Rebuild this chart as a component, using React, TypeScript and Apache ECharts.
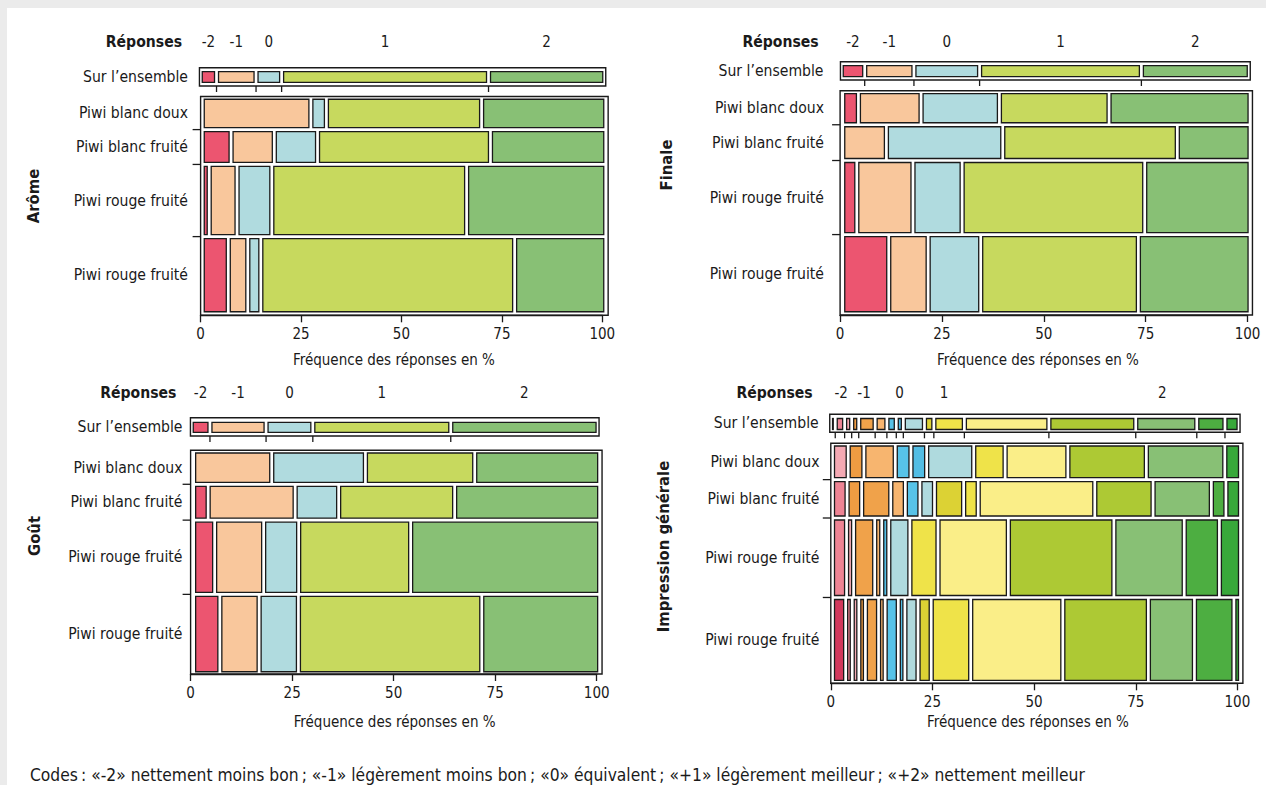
import { useEffect, useRef } from "react";
import * as echarts from "echarts";

// ---------------- DATA ----------------
const PRODUCTS = ["Piwi blanc doux", "Piwi blanc fruité", "Piwi rouge fruité", "Piwi rouge fruité"];
const RESPONSES = ["-2", "-1", "0", "1", "2"];
const X_TICKS = [0, 25, 50, 75, 100];

// counts per product (rows) and response (-2, -1, 0, 1, 2)
const AROME = [
  [0, 7, 1, 10, 8],
  [2, 3, 3, 12, 8],
  [1, 4, 5, 28, 20],
  [4, 3, 2, 39, 14],
];
const FINALE = [
  [1, 4, 5, 7, 9],
  [0, 3, 8, 12, 5],
  [2, 8, 7, 26, 15],
  [7, 6, 8, 24, 17],
];
const GOUT = [
  [0, 5, 6, 7, 8],
  [1, 6, 3, 8, 10],
  [3, 7, 5, 16, 27],
  [4, 6, 6, 28, 18],
];
// Impression générale: 16 finer classes
const IMPRESSION = [
  [0, 0, 1, 1, 0, 2, 1, 1, 3, 0, 2, 4, 5, 5, 0, 1],
  [0, 1, 0, 1, 2, 1, 1, 0, 1, 2, 1, 8, 4, 4, 1, 1],
  [0, 2, 1, 0, 3, 1, 0, 1, 3, 0, 4, 10, 15, 10, 5, 3],
  [2, 1, 1, 1, 2, 1, 2, 1, 2, 2, 6, 14, 13, 7, 6, 1],
];
const IMPRESSION_LABEL_AT = [2.6, 8.2, 16.9, 27.8, 81.2];

const COLORS_5 = ["#EC5570", "#F9C79C", "#B0DBDF", "#C7D95E", "#88C075"];
const COLORS_16 = [
  "#D2385C", "#EE8494", "#F4A9B3",
  "#EF9C42", "#F0A24A", "#F7B56F",
  "#57C3E8", "#52BDE4", "#AFDADE",
  "#DCD234", "#EFE349", "#FAEE88",
  "#ADC934", "#88C075", "#4DAE41", "#38A83A",
];

const CAPTION =
  "Codes\u2009: «-2» nettement moins bon\u2009; «-1» légèrement moins bon\u2009; «0» équivalent\u2009; «+1» légèrement meilleur\u2009; «+2» nettement meilleur";

// ---------------- LAYOUT ----------------
const FONT = "'DejaVu Sans Condensed', 'Liberation Sans', Arial, sans-serif";
const INK = "#1a1a1a";

const PANELS = [
  {
    title: "Arôme", counts: AROME, colors: COLORS_5, labelAt: null as null | number[],
    titleX: 33, titleY: 196, repY: 42, repRight: 182, ensRight: 188, ensY: 77,
    ovX0: 200.25, ovX1: 604.75, ovY0: 71.7, ovY1: 82.3, boxY0: 67.7, boxY1: 86,
    x0: 202.25, x1: 605.75, y0: 97.25, y1: 313.75,
    axX0: 200.6, axX1: 602.3, axY: 315.3, rowRight: 188, axTitleX: 394, axTitleY: 360,
  },
  {
    title: "Finale", counts: FINALE, colors: COLORS_5, labelAt: null as null | number[],
    titleX: 666, titleY: 165, repY: 42, repRight: 818.7, ensRight: 823.5, ensY: 71,
    ovX0: 841.25, ovX1: 1249.25, ovY0: 65.7, ovY1: 76.7, boxY0: 61.7, boxY1: 80,
    x0: 842.75, x1: 1250.05, y0: 91.55, y1: 313.75,
    axX0: 840.1, axX1: 1247.5, axY: 315, rowRight: 824, axTitleX: 1038, axTitleY: 360,
  },
  {
    title: "Goût", counts: GOUT, colors: COLORS_5, labelAt: null as null | number[],
    titleX: 34, titleY: 536, repY: 393.3, repRight: 176.4, ensRight: 182.5, ensY: 427,
    ovX0: 191.25, ovX1: 598.05, ovY0: 422.3, ovY1: 432.3, boxY0: 417.7, boxY1: 436,
    x0: 193.65, x1: 599.65, y0: 451, y1: 673.75,
    axX0: 190.6, axX1: 596.7, axY: 674, rowRight: 182.5, axTitleX: 394.6, axTitleY: 721.7,
  },
  {
    title: "Impression générale", counts: IMPRESSION, colors: COLORS_16, labelAt: IMPRESSION_LABEL_AT,
    titleX: 663, titleY: 546.5, repY: 393.3, repRight: 812.6, ensRight: 818.7, ensY: 423.3,
    ovX0: 830.55, ovX1: 1239.05, ovY0: 418.5, ovY1: 429.5, boxY0: 414.3, boxY1: 432.3,
    x0: 832.5, x1: 1240.5, y0: 444, y1: 682.45,
    axX0: 830.8, axX1: 1237.4, axY: 683.3, rowRight: 819.5, axTitleX: 1028, axTitleY: 721.7,
  },
];

const GAP = 2; // half gap between tiles

function txt(x: number, y: number, text: string, size: number, align: string, bold = false, extra: any = {}) {
  return {
    type: "text",
    x,
    y,
    silent: true,
    ...extra,
    style: {
      text,
      fill: INK,
      font: `${bold ? "bold " : ""}${size}px ${FONT}`,
      align,
      verticalAlign: "middle",
      textAlign: align,
      textVerticalAlign: "middle",
    },
  };
}

function buildOption() {
  const grid: any[] = [];
  const xAxis: any[] = [];
  const yAxis: any[] = [];
  const series: any[] = [];
  const graphic: any[] = [
    { type: "rect", shape: { x: 0, y: 0, width: 1266, height: 8 }, style: { fill: "#EBEBEB" }, silent: true },
    { type: "rect", shape: { x: 0, y: 0, width: 7, height: 785 }, style: { fill: "#EBEBEB" }, silent: true },
    txt(30, 775, CAPTION, 17.3, "left"),
  ];

  PANELS.forEach((p) => {
    const counts = p.counts;
    const nRows = counts.map((r) => r.reduce((a, b) => a + b, 0));
    const total = nRows.reduce((a, b) => a + b, 0);
    const nCat = counts[0].length;
    const overall = Array.from({ length: nCat }, (_, c) => counts.reduce((s, r) => s + r[c], 0));

    // overall tiles
    const ovData: number[][] = [];
    let cum = 0;
    overall.forEach((v, c) => {
      if (v > 0) ovData.push([(cum / total) * 100, ((cum + v) / total) * 100, c]);
      cum += v;
    });
    // response labels
    const labelData: number[][] = RESPONSES.map((_, i) => {
      if (p.labelAt) return [p.labelAt[i], i];
      const t = ovData.find((d) => d[2] === i)!;
      return [(t[0] + t[1]) / 2, i];
    });

    // main tiles
    const mainData: number[][] = [];
    const rowData: number[][] = [];
    let ry = 0;
    counts.forEach((row, r) => {
      const n = nRows[r];
      const y0 = (ry / total) * 100;
      const y1 = ((ry + n) / total) * 100;
      let cx = 0;
      row.forEach((v, c) => {
        if (v > 0) mainData.push([(cx / n) * 100, ((cx + v) / n) * 100, y0, y1, c]);
        cx += v;
      });
      rowData.push([(y0 + y1) / 2, r, y1]);
      ry += n;
    });

    const gi = grid.length;
    grid.push({ left: p.ovX0, top: p.ovY0, width: p.ovX1 - p.ovX0, height: p.ovY1 - p.ovY0 });
    grid.push({ left: p.x0, top: p.y0, width: p.x1 - p.x0, height: p.y1 - p.y0 });
    grid.push({ left: p.axX0, top: p.y0, width: p.axX1 - p.axX0, height: p.axY - p.y0 });

    xAxis.push({ gridIndex: gi, type: "value", min: 0, max: 100, show: false });
    yAxis.push({ gridIndex: gi, type: "value", min: 0, max: 1, show: false });
    xAxis.push({ gridIndex: gi + 1, type: "value", min: 0, max: 100, show: false });
    yAxis.push({ gridIndex: gi + 1, type: "value", min: 0, max: 100, inverse: true, show: false });
    xAxis.push({
      gridIndex: gi + 2,
      type: "value",
      min: X_TICKS[0],
      max: X_TICKS[X_TICKS.length - 1],
      interval: X_TICKS[1] - X_TICKS[0],
      position: "bottom",
      axisLine: { show: true, lineStyle: { color: INK, width: 1.4 } },
      axisTick: { show: true, length: 7, lineStyle: { color: INK, width: 1.3 } },
      axisLabel: { show: true, color: INK, fontSize: 15, fontFamily: FONT, margin: 11 },
      splitLine: { show: false },
    });
    yAxis.push({ gridIndex: gi + 2, type: "value", min: 0, max: 1, show: false });

    const colors = p.colors;
    const boxY1 = p.boxY1;

    // overall bar
    series.push({
      type: "custom",
      coordinateSystem: "cartesian2d",
      xAxisIndex: gi,
      yAxisIndex: gi,
      silent: true,
      clip: false,
      data: ovData,
      renderItem: (params: any, api: any) => {
        const a = api.coord([api.value(0), 1]);
        const b = api.coord([api.value(1), 0]);
        const children: any[] = [
          {
            type: "rect",
            shape: { x: a[0] + GAP, y: a[1], width: Math.max(b[0] - a[0] - 2 * GAP, 0.5), height: b[1] - a[1] },
            style: { fill: colors[api.value(2)], stroke: INK, lineWidth: 1.3 },
          },
        ];
        if (api.value(1) < 99.999) {
          children.push({
            type: "line",
            shape: { x1: b[0], y1: boxY1, x2: b[0], y2: boxY1 + 6 },
            style: { stroke: INK, lineWidth: 1.3 },
          });
        }
        return { type: "group", children };
      },
    });
    // response labels
    series.push({
      type: "custom",
      coordinateSystem: "cartesian2d",
      xAxisIndex: gi,
      yAxisIndex: gi,
      silent: true,
      clip: false,
      data: labelData,
      renderItem: (params: any, api: any) => {
        const a = api.coord([api.value(0), 0]);
        return txt(a[0], p.repY, RESPONSES[api.value(1)], 15, "center");
      },
    });
    // mosaic tiles
    series.push({
      type: "custom",
      coordinateSystem: "cartesian2d",
      xAxisIndex: gi + 1,
      yAxisIndex: gi + 1,
      silent: true,
      clip: false,
      data: mainData,
      renderItem: (params: any, api: any) => {
        const a = api.coord([api.value(0), api.value(2)]);
        const b = api.coord([api.value(1), api.value(3)]);
        return {
          type: "rect",
          shape: {
            x: a[0] + GAP,
            y: a[1] + GAP,
            width: Math.max(b[0] - a[0] - 2 * GAP, 0.5),
            height: b[1] - a[1] - 2 * GAP,
          },
          style: { fill: colors[api.value(4)], stroke: INK, lineWidth: 1.3 },
        };
      },
    });
    // row labels + row separators
    series.push({
      type: "custom",
      coordinateSystem: "cartesian2d",
      xAxisIndex: gi + 1,
      yAxisIndex: gi + 1,
      silent: true,
      clip: false,
      data: rowData,
      renderItem: (params: any, api: any) => {
        const m = api.coord([0, api.value(0)]);
        const e = api.coord([0, api.value(2)]);
        const children: any[] = [txt(p.rowRight, m[1], PRODUCTS[api.value(1)], 15.6, "right")];
        if (api.value(2) < 99.999) {
          children.push({
            type: "line",
            shape: { x1: p.axX0 - 8, y1: e[1], x2: p.axX0, y2: e[1] },
            style: { stroke: INK, lineWidth: 1.3 },
          });
        }
        return { type: "group", children };
      },
    });

    // frames and static texts
    graphic.push({
      type: "rect",
      silent: true,
      shape: { x: p.ovX0 - 0.8, y: p.boxY0, width: p.ovX1 - p.ovX0 + 1.8, height: p.boxY1 - p.boxY0 },
      style: { fill: "none", stroke: INK, lineWidth: 1.4 },
    });
    graphic.push({
      type: "rect",
      silent: true,
      shape: { x: p.axX0, y: p.y0 - 0.8, width: p.x1 + 2.4 - p.axX0, height: p.axY - p.y0 + 0.8 },
      style: { fill: "none", stroke: INK, lineWidth: 1.4 },
    });
    graphic.push(txt(p.repRight, p.repY, "Réponses", 15.6, "right", true));
    graphic.push(txt(p.ensRight, p.ensY, "Sur l’ensemble", 15.6, "right"));
    graphic.push(txt(p.axTitleX, p.axTitleY, "Fréquence des réponses en %", 15, "center"));
    graphic.push(txt(p.titleX, p.titleY, p.title, 16.5, "center", true, { rotation: Math.PI / 2 }));
  });

  return {
    animation: false,
    backgroundColor: "#ffffff",
    grid,
    xAxis,
    yAxis,
    series,
    graphic: { elements: graphic },
  };
}

export default function App() {
  const ref = useRef<HTMLDivElement>(null);
  useEffect(() => {
    const chart = echarts.init(ref.current!, undefined, { renderer: "svg", width: 1266, height: 785 });
    chart.setOption(buildOption() as any);
    return () => chart.dispose();
  }, []);
  return <div ref={ref} style={{ position: "absolute", left: 0, top: 0, width: 1266, height: 785 }} />;
}
